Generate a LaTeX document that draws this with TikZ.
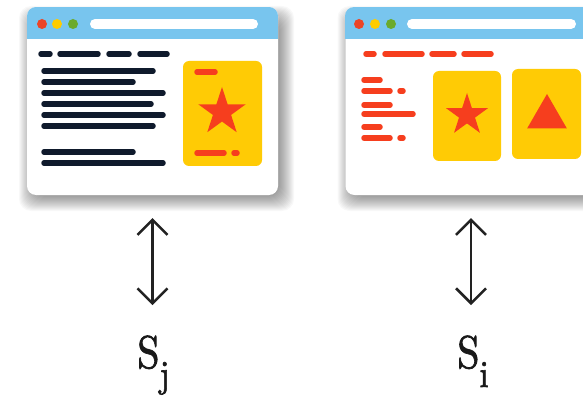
\documentclass[tikz,border=0pt]{standalone}
\usepackage{fontspec}
\newfontfamily\labfont{lmroman10-regular}[Extension=.otf, FakeBold=1.6]
\usetikzlibrary{shapes.geometric,arrows.meta}
\definecolor{barblue}{HTML}{78C5EE}
\definecolor{inkdark}{HTML}{0F1A2C}
\definecolor{markred}{HTML}{F63E1E}
\definecolor{cardyellow}{HTML}{FFCB05}
\definecolor{dotred}{HTML}{EC4426}
\definecolor{dotyellow}{HTML}{FFCC00}
\definecolor{dotgreen}{HTML}{6BAA2C}
\definecolor{arrowgray}{HTML}{222222}

\newcommand{\sublab}[2]{#1\raisebox{-19pt}{\fontsize{38}{42}\selectfont #2}}

\tikzset{
  window/.style={fill=white, rounded corners=9pt, minimum width=251pt, minimum height=188pt, inner sep=0pt},
  shadowlayer/.style={fill=black, opacity=0.028, rounded corners=12pt},
  dot/.style={circle, inner sep=0pt, minimum size=10pt},
  addressbar/.style={line width=10pt, white, line cap=round},
  textline/.style={line width=5.5pt, line cap=round, inkdark},
  redline/.style={textline, markred},
  card/.style={fill=cardyellow, rounded corners=6pt, inner sep=0pt},
  staricon/.style={star, star points=5, star point ratio=2.618, fill=markred, inner sep=0pt},
  triicon/.style={regular polygon, regular polygon sides=3, fill=markred, inner sep=0pt, minimum size=46pt},
  dblarrow/.style={{Straight Barb[length=15pt,width=30pt]}-{Straight Barb[length=15pt,width=30pt]}, line width=2.5pt, arrowgray},
  lab/.style={anchor=base, xscale=0.87, text=black!90, font=\labfont\fontsize{46}{50}\selectfont}
}

\begin{document}
\begin{tikzpicture}[x=1pt, y=-1pt]
    \useasboundingbox (0,0) rectangle (583,398);
    \fill[white] (0,0) rectangle (583,398);
    \clip (0,0) rectangle (583,398);

    % soft shadows under both pages
    \foreach \dx in {0,318.5}
        \foreach \k in {0,...,14}
            \fill[shadowlayer] (33+\dx-\k,20-\k) rectangle (280+\dx+\k,197+\k);

    % Page j
    \node[window] (winj) at (152.5,101) {};
    \begin{scope}
        \clip[rounded corners=9pt] (27,7) rectangle (278,195);
        \fill[barblue] (27,7) rectangle (278,39);
    \end{scope}
    \node[dot, fill=dotred] (rdj) at (42,24) {};
    \node[dot, fill=dotyellow] (ydj) at (57,24) {};
    \node[dot, fill=dotgreen] (gdj) at (73,24) {};
    \draw[addressbar] (95,24) -- (253,24);
    \foreach \xa/\xb in {41/50, 60/98, 109/129, 140/167}
        \draw[textline] (\xa,54) -- (\xb,54);
    \foreach \y/\xb in {71/153, 82/133, 93/163, 104/151, 115/163, 126/153, 152/133, 163/163}
        \draw[textline] (44,\y) -- (\xb,\y);
    \node[card, minimum width=79pt, minimum height=105pt] (cardj) at (222.5,113.5) {};
    \draw[redline] (197,72) -- (215,72);
    \draw[redline] (197,153) -- (224,153);
    \draw[redline] (234,153) -- (237,153);
    \node[staricon, minimum size=50pt] (starj) at (222,112) {};

    % Page i
    \node[window] (wini) at (471,101) {};
    \begin{scope}
        \clip[rounded corners=9pt] (345,7) rectangle (597,195);
        \fill[barblue] (345,7) rectangle (597,39);
    \end{scope}
    \node[dot, fill=dotred] (rdi) at (359,24) {};
    \node[dot, fill=dotyellow] (ydi) at (375,24) {};
    \node[dot, fill=dotgreen] (gdi) at (391,24) {};
    \draw[addressbar] (412,24) -- (571,24);
    \foreach \xa/\xb in {366/374, 385/422, 432/454, 464/491}
        \draw[redline] (\xa,54) -- (\xb,54);
    \foreach \y/\xb in {80/380, 91/390, 105/390, 114/413, 127/380, 138/390}
        \draw[redline] (364,\y) -- (\xb,\y);
    \draw[redline] (400,91) -- (403,91);
    \draw[redline] (400,138) -- (403,138);
    \node[card, minimum width=68pt, minimum height=90pt] (cardia) at (467,116) {};
    \node[card, minimum width=69pt, minimum height=90pt] (cardib) at (546.5,114) {};
    \node[staricon, minimum size=44pt] (stari) at (467,115) {};
    \node[triicon] (trii) at (547,117) {};

    % Labels and arrows
    \node[lab] (labj) at (153.5,368) {\sublab{S}{j}};
    \node[lab] (labi) at (473,368) {\sublab{S}{i}};
    \draw[dblarrow, shorten <=23pt, shorten >=27pt] (winj.south) -- (winj.south |- labj.north);
    \draw[dblarrow, shorten <=23pt, shorten >=27pt] (wini.south) -- (wini.south |- labi.north);
\end{tikzpicture}
\end{document}
